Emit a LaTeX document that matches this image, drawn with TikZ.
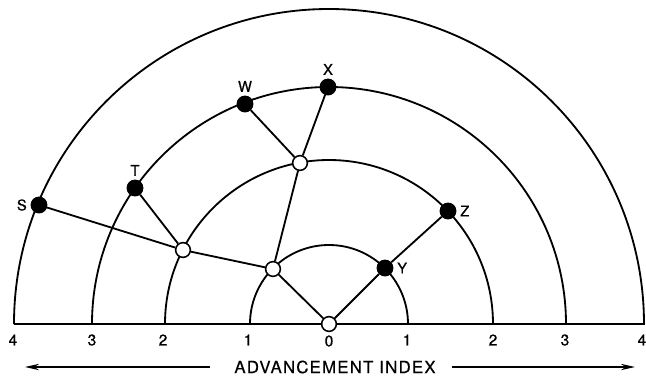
\documentclass[tikz,border=0pt]{standalone}
\usepackage{fontspec}
\setmainfont{TeX Gyre Heros}
\usetikzlibrary{arrows.meta}

\begin{document}
\begin{tikzpicture}[x=0.025cm, y=0.025cm,
    ring/.style={line width=1.3pt},
    link/.style={line width=1.3pt},
    full/.style={circle, draw, fill=black, inner sep=0pt, minimum size=11pt, line width=1pt},
    hollow/.style={circle, draw, fill=white, inner sep=0pt, minimum size=10.5pt, line width=1.1pt},
    lab/.style={font=\fontsize{10.5}{12}\selectfont\addfontfeatures{FakeBold=0.6}, inner sep=2.5pt},
    tick/.style={font=\fontsize{11}{13}\selectfont\addfontfeatures{FakeBold=0.6}, inner sep=0pt},
    arr/.style={-{Stealth[length=10pt, width=4.5pt]}, line width=1pt}
]
\useasboundingbox (-329,-54) rectangle (317,324);

% rings and base line
\draw[ring] (-315,0) -- (316,0);
\draw[ring] (79,0) arc[start angle=0, end angle=180, radius=79];
\draw[ring] (164,0) arc[start angle=0, end angle=180, radius=164];
\draw[ring] (237,0) arc[start angle=0, end angle=180, radius=237];
\draw[ring] (315,0) arc[start angle=0, end angle=180, radius=315];

% nodes
\node[hollow] (o) at (0,0) {};
\node[hollow] (p1) at (-56,55) {};
\node[hollow] (p2) at (-146,74) {};
\node[hollow] (p3) at (-29,161) {};
\node[full, label={[lab]left:S}] (s) at (-290,119) {};
\node[full, label={[lab]above:T}] (t) at (-194,136) {};
\node[full, label={[lab]above:W}] (w) at (-84,220) {};
\node[full, label={[lab]above:X}] (x) at (-1,237) {};
\node[full, label={[lab]right:Y}] (y) at (56,56) {};
\node[full, label={[lab]right:Z}] (z) at (119,113) {};

% links
\draw[link] (o) -- (p1);
\draw[link] (o) -- (y);
\draw[link] (y) -- (z);
\draw[link] (p1) -- (p2);
\draw[link] (p1) -- (p3);
\draw[link] (p2) -- (s);
\draw[link] (p2) -- (t);
\draw[link] (p3) -- (w);
\draw[link] (p3) -- (x);

% scale
\node[tick] (l4) at (-316,-16) {4};
\node[tick] (l3) at (-237,-16) {3};
\node[tick] (l2) at (-166,-16) {2};
\node[tick] (l1) at (-81,-16) {1};
\node[tick] (c0) at (0,-17) {0};
\node[tick] (r1) at (78,-16) {1};
\node[tick] (r2) at (164,-16) {2};
\node[tick] (r3) at (236,-16) {3};
\node[tick] (r4) at (313,-16) {4};

\node[font=\fontsize{12}{14}\selectfont\addfontfeatures{LetterSpace=7, FakeBold=0.4}] (idx) at (6,-43) {ADVANCEMENT INDEX};
\coordinate (ls) at (-119,-43);
\coordinate (la) at (-304,-43);
\coordinate (rs) at (123,-43);
\coordinate (ra) at (306,-43);
\draw[arr] (ls) -- (la);
\draw[arr] (rs) -- (ra);
\end{tikzpicture}
\end{document}
